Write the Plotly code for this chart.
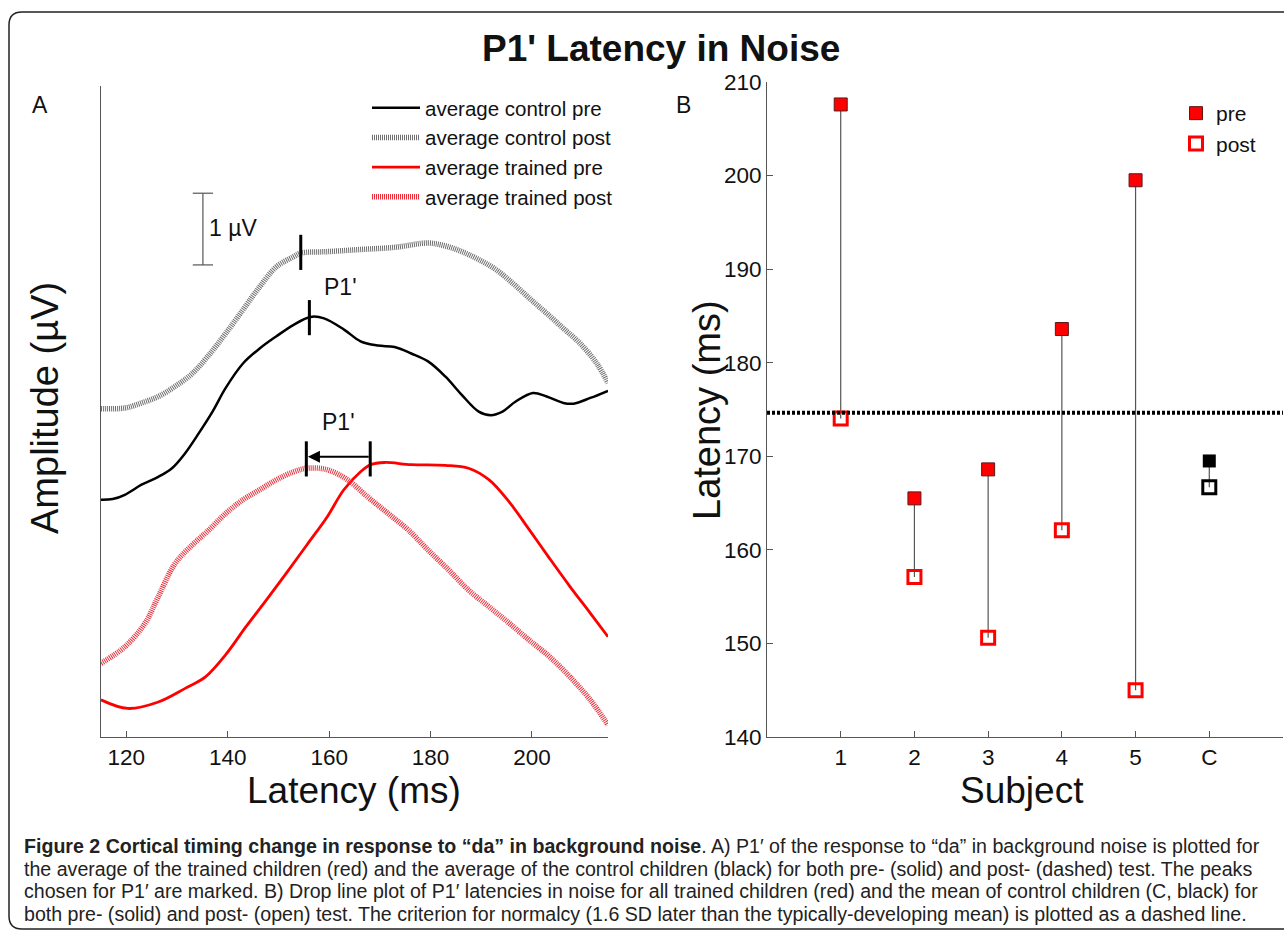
import plotly.graph_objects as go

# ---------------- Panel A data (latency in ms, amplitude in µV, traces offset as plotted) ----------------
t_ctrl_post = [115, 119.7, 123, 126.3, 129.6, 133, 136.3, 139.6, 143, 146.3, 149.6, 153, 154.4, 159.6,
               166.2, 172.9, 179.5, 182.9, 186.2, 189.5, 192.9, 196.2, 199.5, 202.9, 206.2, 209.5, 212.8, 215]
v_ctrl_post = [4.55, 4.56, 4.63, 4.72, 4.86, 5.04, 5.30, 5.60, 5.93, 6.25, 6.53, 6.67, 6.72, 6.74,
               6.77, 6.80, 6.86, 6.82, 6.74, 6.63, 6.49, 6.30, 6.09, 5.88, 5.67, 5.46, 5.18, 4.91]

t_ctrl_pre = [115, 117.3, 119.7, 123, 126.3, 129, 131.6, 134.3, 137, 139.6, 143, 146.3, 149.6, 153, 156.3,
              159, 163, 166.2, 169.6, 172.9, 176.2, 179.5, 182.9, 186.2, 189.5, 191.9, 194.2, 196.8, 200.2,
              202.9, 206.2, 208.2, 211.5, 215]
v_ctrl_pre = [3.28, 3.29, 3.35, 3.49, 3.60, 3.72, 3.93, 4.21, 4.51, 4.84, 5.18, 5.39, 5.56, 5.72, 5.83,
              5.81, 5.65, 5.49, 5.43, 5.41, 5.32, 5.21, 5.00, 4.74, 4.51, 4.46, 4.51, 4.65, 4.77,
              4.72, 4.63, 4.62, 4.70, 4.80]

t_trn_pre = [115, 120.3, 126.3, 131.6, 135.6, 139.6, 143.6, 147.6, 151.6, 155.6, 159.6, 162.9, 166.2, 168.2,
             170.9, 176.2, 182.9, 187.5, 191.5, 195.5, 199.5, 203.5, 207.5, 211.5, 215]
v_trn_pre = [0.49, 0.37, 0.46, 0.65, 0.81, 1.12, 1.51, 1.88, 2.26, 2.65, 3.04, 3.42, 3.67, 3.77,
             3.80, 3.77, 3.76, 3.72, 3.56, 3.25, 2.86, 2.46, 2.07, 1.70, 1.37]

t_trn_post = [115, 119.7, 123.7, 126.3, 129.6, 133, 136.3, 139.6, 143, 146.3, 149.6, 153, 155.6, 159.6,
              163.6, 167.6, 171.6, 175.6, 179.5, 183.6, 187.5, 191.5, 195.5, 199.5, 203.5, 207.5, 211.5, 215]
v_trn_post = [1.00, 1.23, 1.56, 1.93, 2.39, 2.65, 2.86, 3.09, 3.28, 3.42, 3.56, 3.67, 3.72, 3.70,
              3.56, 3.32, 3.09, 2.86, 2.58, 2.30, 2.02, 1.79, 1.56, 1.32, 1.09, 0.81, 0.49, 0.14]

# P1' peak picks: (latency, amplitude) for control post, control pre, trained post, trained pre
peak_t = [154.4, 156.1, 155.5, 168.1]
peak_v = [6.73, 5.82, 3.85, 3.85]
peak_half = 0.245
scale_bar_t = 135.1
scale_bar_v = [6.555, 7.555]

x_ticks_a = [120, 140, 160, 180, 200]

# ---------------- Panel B data ----------------
subjects = ["1", "2", "3", "4", "5"]
trained_pre = [207.6, 165.5, 168.6, 183.6, 199.5]
trained_post = [174.05, 157.1, 150.6, 162.1, 145.0]
control_label = ["C"]
control_pre = [169.5]
control_post = [166.7]
criterion = 174.65
all_cats = subjects + control_label

caption_lines = [
    "<b>Figure 2 Cortical timing change in response to “da” in background noise</b>. A) P1′ of the response to “da” in background noise is plotted for",
    "the average of the trained children (red) and the average of the control children (black) for both pre- (solid) and post- (dashed) test. The peaks",
    "chosen for P1′ are marked. B) Drop line plot of P1′ latencies in noise for all trained children (red) and the mean of control children (C, black) for",
    "both pre- (solid) and post- (open) test. The criterion for normalcy (1.6 SD later than the typically-developing mean) is plotted as a dashed line.",
]

W, H = 1284, 933
def px(x):
    return x / W
def py(y):
    return 1 - y / H

fig = go.Figure()

FONT = "Arial, Liberation Sans, sans-serif"

# Panel A traces
fig.add_trace(go.Scatter(x=t_ctrl_pre, y=v_ctrl_pre, mode="lines", name="average control pre",
                         line=dict(color="#000000", width=2.5, shape="spline"),
                         xaxis="x", yaxis="y", legend="legend", legendgroup="a1"))
fig.add_trace(go.Scatter(x=t_ctrl_post, y=v_ctrl_post, mode="lines", name="average control post",
                         line=dict(color="#6e6e6e", width=5.5, dash="1px,1px", shape="spline"),
                         xaxis="x", yaxis="y", legend="legend", legendgroup="a2"))
fig.add_trace(go.Scatter(x=t_trn_pre, y=v_trn_pre, mode="lines", name="average trained pre",
                         line=dict(color="#ff0000", width=2.8, shape="spline"),
                         xaxis="x", yaxis="y", legend="legend", legendgroup="a3"))
fig.add_trace(go.Scatter(x=t_trn_post, y=v_trn_post, mode="lines", name="average trained post",
                         line=dict(color="#e8303c", width=5.5, dash="1px,1px", shape="spline"),
                         xaxis="x", yaxis="y", legend="legend", legendgroup="a4"))

# Panel B drop lines
dx, dy = [], []
for c, a, b in zip(all_cats, trained_pre + control_pre, trained_post + control_post):
    dx += [c, c, None]
    dy += [a, b, None]
fig.add_trace(go.Scatter(x=dx, y=dy, mode="lines", line=dict(color="#555555", width=1.2),
                         showlegend=False, hoverinfo="skip", xaxis="x2", yaxis="y2"))

fig.add_trace(go.Scatter(x=subjects, y=trained_pre, mode="markers", name="pre",
                         marker=dict(symbol="square", size=13, color="#ff0000",
                                     line=dict(color="#5a1a1a", width=1)),
                         xaxis="x2", yaxis="y2", legend="legend2", legendgroup="b1"))
fig.add_trace(go.Scatter(x=subjects, y=trained_post, mode="markers", name="post",
                         marker=dict(symbol="square-open", size=13, color="#ff0000",
                                     line=dict(width=3)),
                         xaxis="x2", yaxis="y2", legend="legend2", legendgroup="b2"))
fig.add_trace(go.Scatter(x=control_label, y=control_pre, mode="markers", showlegend=False,
                         marker=dict(symbol="square", size=13, color="#000000"),
                         xaxis="x2", yaxis="y2"))
fig.add_trace(go.Scatter(x=control_label, y=control_post, mode="markers", showlegend=False,
                         marker=dict(symbol="square-open", size=13, color="#000000",
                                     line=dict(width=3)),
                         xaxis="x2", yaxis="y2"))

shapes = []
# outer rounded frame
r = 13
shapes.append(dict(type="path", xref="paper", yref="paper",
                   path=(f"M {px(1300)},{py(12)} L {px(9 + r)},{py(12)} "
                         f"Q {px(9)},{py(12)} {px(9)},{py(12 + r)} "
                         f"L {px(9)},{py(929 - r)} Q {px(9)},{py(929)} {px(9 + r)},{py(929)} "
                         f"L {px(1300)},{py(929)}"),
                   line=dict(color="#222222", width=1.5)))
# peak pick markers
for t, v in zip(peak_t, peak_v):
    shapes.append(dict(type="line", xref="x", yref="y", x0=t, x1=t, y0=v - peak_half, y1=v + peak_half,
                       line=dict(color="#000000", width=3)))
# scale bar
shapes.append(dict(type="line", xref="x", yref="y", x0=scale_bar_t, x1=scale_bar_t,
                   y0=scale_bar_v[0], y1=scale_bar_v[1], line=dict(color="#555555", width=1.2)))
for v in scale_bar_v:
    shapes.append(dict(type="line", xref="x", yref="y", x0=scale_bar_t - 2, x1=scale_bar_t + 2,
                       y0=v, y1=v, line=dict(color="#555555", width=1.2)))
# criterion line
shapes.append(dict(type="line", xref="x2 domain", yref="y2", x0=0, x1=1, y0=criterion, y1=criterion,
                   line=dict(color="#000000", width=4, dash="3px,2px")))

def ann(text, x, y, size, angle=0, xanchor="center"):
    return dict(text=text, xref="paper", yref="paper", x=px(x), y=py(y), textangle=angle,
                xanchor=xanchor, yanchor="middle", showarrow=False,
                font=dict(size=size, family=FONT, color="#111"))

annotations = [
    ann("<b>P1' Latency in Noise</b>", 661, 48, 37),
    ann("A", 40, 105, 23),
    ann("B", 683, 105, 23),
    ann("Amplitude (µV)", 45, 408, 38, angle=-90),
    ann("Latency (ms)", 354, 790, 37),
    ann("Latency (ms)", 707, 410, 38, angle=-90),
    ann("Subject", 1022, 790, 37),
    dict(text="P1'", xref="x", yref="y", x=162.2, y=6.25, showarrow=False, yanchor="middle",
         font=dict(size=23, family=FONT, color="#111")),
    dict(text="P1'", xref="x", yref="y", x=161.9, y=4.37, showarrow=False, yanchor="middle",
         font=dict(size=23, family=FONT, color="#111")),
    dict(text="1 µV", xref="x", yref="y", x=135.9, y=7.07, xanchor="left", yanchor="middle", showarrow=False,
         font=dict(size=23, family=FONT, color="#111")),
    dict(text="", xref="x", yref="y", axref="x", ayref="y", x=peak_t[2] + 0.3, y=3.88,
         ax=peak_t[3], ay=3.88, showarrow=True, arrowhead=2, arrowsize=1.1, arrowwidth=2.2,
         arrowcolor="#000"),
]
for i, line in enumerate(caption_lines):
    annotations.append(dict(text=line, xref="paper", yref="paper", x=px(22), y=py(846 + 22.5 * i),
                            xanchor="left", yanchor="middle", align="left", showarrow=False,
                            font=dict(size=19.6, family=FONT, color="#222")))

axis_common = dict(showgrid=False, zeroline=False, showline=True, linecolor="#555555", linewidth=1,
                   ticks="inside", ticklen=6, tickcolor="#555555", automargin=False,
                   tickfont=dict(size=22.5, family=FONT, color="#111"))

fig.update_layout(
    width=W, height=H, autosize=False,
    margin=dict(l=0, r=0, t=0, b=0),
    paper_bgcolor="white", plot_bgcolor="white",
    xaxis=dict(domain=[px(101), px(608)], range=[115, 215], tickvals=x_ticks_a, anchor="y", **axis_common),
    yaxis=dict(domain=[py(737), py(86)], range=[-0.028, 9.05], anchor="x",
               showgrid=False, zeroline=False, showline=True, linecolor="#555555", linewidth=1,
               showticklabels=False, ticks="", automargin=False),
    xaxis2=dict(domain=[px(767), px(1283)], type="category", range=[-1, 6], anchor="y2", **axis_common),
    yaxis2=dict(domain=[py(737), py(82)], range=[140, 210], dtick=10, anchor="x2", **axis_common),
    legend=dict(x=px(367), y=py(88), xanchor="left", yanchor="top", bgcolor="rgba(0,0,0,0)",
                itemwidth=48, tracegroupgap=0, traceorder="grouped",
                font=dict(size=20.5, family=FONT, color="#111")),
    legend2=dict(x=px(1176), y=py(93), xanchor="left", yanchor="top", bgcolor="rgba(0,0,0,0)",
                 tracegroupgap=0, traceorder="grouped",
                 font=dict(size=21, family=FONT, color="#111")),
    shapes=shapes,
    annotations=annotations,
    showlegend=True,
)

fig.write_html("out.html", config={"displayModeBar": False},
               post_script="document.body.style.margin='0';")
